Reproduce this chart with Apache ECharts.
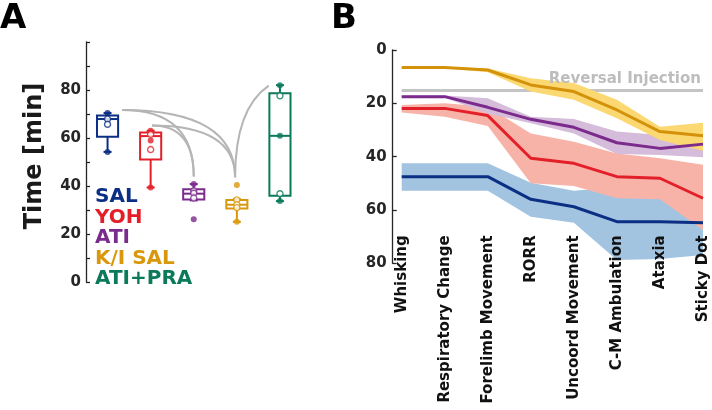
<!DOCTYPE html>
<html>
<head>
<meta charset="utf-8">
<script src="https://cdn.jsdelivr.net/npm/echarts@6/dist/echarts.min.js"></script>
<style>html,body{margin:0;padding:0;background:#fff}#c{width:712px;height:410px}</style>
</head>
<body>
<div id="c"></div>
<script>
// ---------- Panel A data ----------
const boxGroups = ['SAL', 'YOH', 'ATI', 'K/I SAL', 'ATI+PRA'];
const boxMin    = [54.2, 39.4, 34.0, 25.1, 33.7];
const boxQ1     = [60.5, 51.0, 34.4, 30.6, 35.9];
const boxMedian = [67.9, 60.8, 36.8, 32.2, 60.9];
const boxQ3     = [69.4, 62.3, 38.6, 34.2, 78.6];
const boxMax    = [70.4, 63.0, 40.8, 34.6, 82.0];
const filledPoints = [[70.4, 54.2], [63.0, 59.0, 39.4], [40.8, 26.1], [40.4, 25.1], [82.0, 60.9, 33.7]];
const openPoints   = [[67.9, 65.7], [61.5, 55.2], [38.0, 37.0, 35.0], [34.2, 32.2, 31.0], [77.6, 36.8]];
// significance arcs: from group, from time, to group, to time
const arcFromGroup = [0, 0, 1, 1, 3];
const arcFromTime  = [71.7, 71.7, 65.2, 65.2, 43.6];
const arcToGroup   = [2, 3, 2, 3, 4];
const arcToTime    = [44.0, 43.6, 44.0, 43.6, 81.8];
const panelATicks = [0, 20, 40, 60, 80];

// ---------- Panel B data ----------
const stages = ['Whisking', 'Respiratory Change', 'Forelimb Movement', 'RORR', 'Uncoord Movement', 'C-M Ambulation', 'Ataxia', 'Sticky Dot'];
const salMean = [47.5, 47.5, 47.5, 56.0, 58.8, 64.4, 64.4, 64.8];
const salLow  = [42.5, 42.5, 42.5, 49.8, 52.8, 51.5, 52.0, 55.0];
const salHigh = [52.8, 52.8, 52.8, 62.5, 64.8, 78.8, 78.4, 76.9];
const yohMean = [21.9, 21.9, 24.6, 40.6, 42.5, 47.5, 48.1, 55.6];
const yohLow  = [20.6, 20.0, 21.3, 31.3, 34.4, 38.8, 40.6, 43.0];
const yohHigh = [23.4, 25.0, 28.5, 50.0, 51.0, 55.6, 56.0, 67.5];
const atiMean = [17.5, 17.5, 21.5, 26.0, 29.0, 34.8, 36.9, 35.3];
const atiLow  = [17.1, 17.1, 18.1, 25.0, 25.9, 30.6, 31.9, 32.5];
const atiHigh = [17.9, 17.9, 23.8, 27.5, 31.3, 39.0, 39.4, 40.2];
const kiMean  = [6.6, 6.6, 7.5, 13.1, 15.6, 22.5, 30.6, 32.2];
const kiLow   = [6.4, 6.4, 6.9, 10.6, 12.4, 18.7, 28.8, 27.3];
const kiHigh  = [6.8, 6.8, 8.3, 15.6, 18.7, 25.6, 33.8, 37.8];
const reversalTime = 15;
const reversalLabel = 'Reversal Injection';
const panelBTicks = [0, 20, 40, 60, 80];

// ---------- styles ----------
const FONT = '"DejaVu Sans", Verdana, sans-serif';
const groupColors = ['#0b2f84', '#e3202a', '#7a2b8c', '#d9980c', '#0b7a5b'];
const lineColors = { sal: '#0b2f84', yoh: '#e3202a', ati: '#7a2b8c', ki: '#d4920a' };
const bandColors = { sal: '#a3c4e0', yoh: '#f7b3a8', ati: '#d6bcdb', ki: '#fcd873' };
const arcFromShift = [0.34, 0.34, 0.03, 0.03, -0.04];
const arcToShift   = [0, -0.04, 0, -0.04, -0.26];

const chart = echarts.init(document.getElementById('c'), null, { renderer: 'canvas' });

const boxData = boxGroups.map((g, i) => [i, boxMin[i], boxQ1[i], boxMedian[i], boxQ3[i], boxMax[i]]);
const filledData = [], openData = [];
boxGroups.forEach((g, i) => {
  filledPoints[i].forEach(v => filledData.push({ value: [i, v], itemStyle: { color: groupColors[i] } }));
  openPoints[i].forEach(v => openData.push({ value: [i, v], itemStyle: { color: '#fff', borderColor: groupColors[i], borderWidth: 1.4 } }));
});
const arcData = arcFromGroup.map((f, k) => [f, arcFromTime[k], arcToGroup[k], arcToTime[k], k]);

function bandSeries(key, low, high, z) {
  return [
    { type: 'line', xAxisIndex: 1, yAxisIndex: 1, stack: 'band_' + key, data: low, symbol: 'none', lineStyle: { opacity: 0 }, silent: true, z: z },
    { type: 'line', xAxisIndex: 1, yAxisIndex: 1, stack: 'band_' + key, data: high.map((h, i) => +(h - low[i]).toFixed(2)), symbol: 'none', lineStyle: { opacity: 0 }, areaStyle: { color: bandColors[key], opacity: 1 }, silent: true, z: z }
  ];
}
function meanSeries(key, data) {
  return { type: 'line', xAxisIndex: 1, yAxisIndex: 1, data: data, symbol: 'none', lineStyle: { color: lineColors[key], width: 3 }, z: 10 };
}

const axisTextA = { fontFamily: FONT, fontSize: 15, fontWeight: 'bold', color: '#262626' };

const option = {
  animation: false,
  backgroundColor: '#fff',
  textStyle: { fontFamily: FONT },
  grid: [
    { left: 86, top: 42, width: 215.5, height: 240 },
    { left: 401.7, top: 50, right: 9, height: 213.3 }
  ],
  xAxis: [
    { gridIndex: 0, type: 'category', data: boxGroups, boundaryGap: true, axisLine: { show: false }, axisTick: { show: false }, axisLabel: { show: false }, splitLine: { show: false } },
    { gridIndex: 1, type: 'category', data: stages, boundaryGap: false, z: 30, axisLine: { show: false }, axisTick: { show: false }, splitLine: { show: false },
      axisLabel: { rotate: 90, margin: -28, interval: 0, hideOverlap: false, fontFamily: FONT, fontSize: 15, fontWeight: 'bold', color: '#111' } }
  ],
  yAxis: [
    { gridIndex: 0, type: 'value', min: 0, max: 100, interval: 10, splitLine: { show: false },
      axisLine: { show: true, lineStyle: { color: '#262626', width: 1.3 } },
      axisTick: { show: true, inside: true, length: 4, lineStyle: { color: '#262626', width: 1.3 } },
      axisLabel: Object.assign({ margin: 5, formatter: v => panelATicks.includes(v) ? String(v) : '' }, axisTextA) },
    { gridIndex: 1, type: 'value', min: 0, max: 80, interval: 20, inverse: true, offset: 9, splitLine: { show: false },
      axisLine: { show: true, lineStyle: { color: '#262626', width: 1.3 } },
      axisTick: { show: true, inside: true, length: 4, lineStyle: { color: '#262626', width: 1.3 } },
      axisLabel: Object.assign({ margin: 6, formatter: v => panelBTicks.includes(v) ? String(v) : '' }, axisTextA) }
  ],
  graphic: [
    { type: 'text', x: 0, y: 19, style: { text: 'A', font: 'bold 34px ' + FONT, fill: '#000', verticalAlign: 'middle', align: 'left' } },
    { type: 'text', x: 331, y: 19, style: { text: 'B', font: 'bold 34px ' + FONT, fill: '#000', verticalAlign: 'middle', align: 'left' } },
    { type: 'text', x: 35, y: 156, rotation: Math.PI / 2, style: { text: 'Time [min]', font: 'bold 24px ' + FONT, fill: '#1a1a1a', align: 'center', verticalAlign: 'middle' } }
  ].concat(boxGroups.map((g, i) => ({
    type: 'text', x: 95, y: 197 + i * 20.5,
    style: { text: g, font: 'bold 20px ' + FONT, fill: groupColors[i], align: 'left', verticalAlign: 'middle' }
  }))),
  series: [
    // arcs
    { type: 'custom', xAxisIndex: 0, yAxisIndex: 0, data: arcData, silent: true, z: 1,
      encode: { x: [0, 2], y: [1, 3] },
      renderItem: function (params, api) {
        const k = api.value(4);
        const band = api.size([1, 0])[0];
        const p1 = api.coord([api.value(0), api.value(1)]);
        const p2 = api.coord([api.value(2), api.value(3)]);
        p1[0] += arcFromShift[k] * band;
        p2[0] += arcToShift[k] * band;
        let cx, cy;
        if (api.value(3) < api.value(1)) { cx = p2[0]; cy = p1[1]; }
        else { cx = p1[0]; cy = p2[1] + 0.25 * (p1[1] - p2[1]); }
        return { type: 'path', shape: { pathData: 'M' + p1[0] + ' ' + p1[1] + ' Q' + cx + ' ' + cy + ' ' + p2[0] + ' ' + p2[1] },
          style: { fill: 'none', stroke: '#b5b5b5', lineWidth: 2 } };
      } },
    // boxes
    { type: 'custom', xAxisIndex: 0, yAxisIndex: 0, data: boxData, z: 3,
      encode: { x: 0, y: [1, 2, 3, 4, 5] },
      renderItem: function (params, api) {
        const i = api.value(0);
        const color = groupColors[i];
        const bw = api.size([1, 0])[0] * 0.49;
        const pMin = api.coord([i, api.value(1)]);
        const pQ1 = api.coord([i, api.value(2)]);
        const pMed = api.coord([i, api.value(3)]);
        const pQ3 = api.coord([i, api.value(4)]);
        const pMax = api.coord([i, api.value(5)]);
        const x = pMed[0];
        const st = { stroke: color, lineWidth: 2, fill: 'none' };
        const cap = 4;
        return { type: 'group', children: [
          { type: 'line', shape: { x1: x, y1: pQ3[1], x2: x, y2: pMax[1] }, style: st },
          { type: 'line', shape: { x1: x, y1: pQ1[1], x2: x, y2: pMin[1] }, style: st },
          { type: 'line', shape: { x1: x - cap, y1: pMax[1], x2: x + cap, y2: pMax[1] }, style: st },
          { type: 'line', shape: { x1: x - cap, y1: pMin[1], x2: x + cap, y2: pMin[1] }, style: st },
          { type: 'rect', shape: { x: x - bw / 2, y: pQ3[1], width: bw, height: pQ1[1] - pQ3[1] }, style: st },
          { type: 'line', shape: { x1: x - bw / 2, y1: pMed[1], x2: x + bw / 2, y2: pMed[1] }, style: st }
        ] };
      } },
    { type: 'scatter', xAxisIndex: 0, yAxisIndex: 0, data: filledData, symbolSize: 6, z: 5 },
    { type: 'scatter', xAxisIndex: 0, yAxisIndex: 0, data: openData, symbolSize: 6, z: 5 },
    // bands
    ...bandSeries('sal', salLow, salHigh, 2),
    ...bandSeries('yoh', yohLow, yohHigh, 3),
    ...bandSeries('ati', atiLow, atiHigh, 4),
    ...bandSeries('ki', kiLow, kiHigh, 5),
    // reversal line
    { type: 'line', xAxisIndex: 1, yAxisIndex: 1, data: stages.map(() => reversalTime), symbol: 'none', silent: true, z: 8,
      lineStyle: { opacity: 0 },
      markLine: { symbol: 'none', silent: true, lineStyle: { color: '#c4c4c4', width: 3, type: 'solid' }, data: [{ yAxis: reversalTime }],
        label: { show: true, position: 'insideEndTop', distance: [2, 3], formatter: reversalLabel, fontFamily: FONT, fontSize: 15, fontWeight: 'bold', color: '#bdbdbd' } } },
    meanSeries('sal', salMean),
    meanSeries('yoh', yohMean),
    meanSeries('ati', atiMean),
    meanSeries('ki', kiMean)
  ]
};
chart.setOption(option);
</script>
</body>
</html>
